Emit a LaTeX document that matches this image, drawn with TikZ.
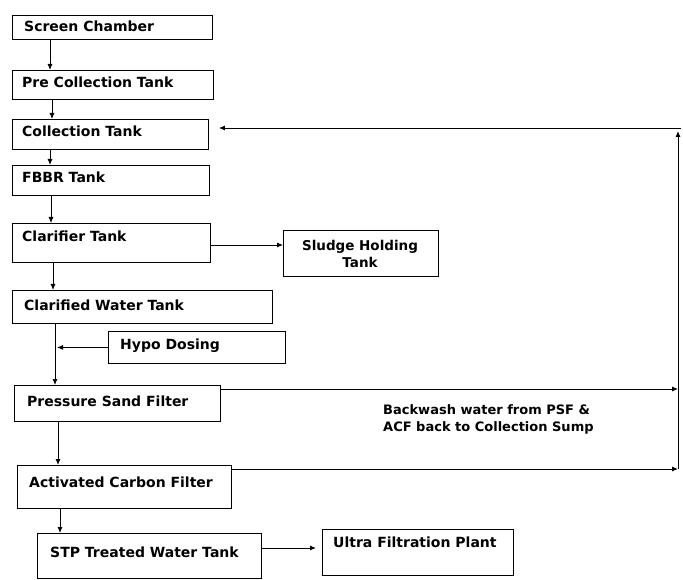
\documentclass[tikz,border=0pt]{standalone}
\usepackage{fontspec}
\setmainfont{DejaVu Sans}
\usetikzlibrary{arrows.meta,calc}
\tikzset{
  box/.style={draw,line width=0.9pt,rectangle,inner sep=0pt,anchor=north west},
  lbl/.style={font=\bfseries\fontsize{14pt}{16pt}\selectfont,inner sep=0pt,anchor=base west},
  arr/.style={line width=0.9pt,-{Latex[length=6pt,width=5pt]}},
  ln/.style={line width=0.9pt}
}
\newcommand{\pbox}[7]{%
  \node[box,minimum width=#4pt-#2pt,minimum height=#5pt-#3pt] (#1) at (#2,#3) {};
  \node[lbl] (#1-t) at (#6) {#7};}
\begin{document}
\begin{tikzpicture}[x=1pt,y=-1pt]
\useasboundingbox (0,0) rectangle (683,580);
\pbox{sc}{12}{15}{212}{39}{24,32}{Screen Chamber}
\pbox{pre}{12}{70}{213}{99}{22,88}{Pre Collection Tank}
\pbox{col}{12}{119}{208}{149}{22,137}{Collection Tank}
\pbox{fb}{12}{165}{209}{195}{22,183}{FBBR Tank}
\pbox{cl}{12}{223}{210}{262}{22,242}{Clarifier Tank}
\node[box,minimum width=155pt,minimum height=46pt] (sl) at (283,230) {};
\node[font=\bfseries\fontsize{13.5pt}{17pt}\selectfont,align=center,inner sep=0pt] (sl-t) at (360,254) {Sludge Holding\\Tank};
\pbox{cw}{12}{290}{272}{323}{24,310}{Clarified Water Tank}
\pbox{hy}{108}{331}{285}{363}{120,349}{Hypo Dosing}
\pbox{psf}{14}{385}{220}{421}{27,406}{Pressure Sand Filter}
\pbox{acf}{17}{465}{231}{508}{29,487}{Activated Carbon Filter}
\pbox{stp}{37}{533}{261}{578}{50,557}{STP Treated Water Tank}
\pbox{uf}{322}{529}{513}{575}{333,547}{Ultra Filtration Plant}
\node[font=\bfseries\fontsize{13pt}{17pt}\selectfont,align=left,inner sep=0pt,anchor=north west] (bw) at (383,404) {Backwash water from PSF \&\\ACF back to Collection Sump};
% main flow
\draw[arr] ([xshift=38pt]sc.south west) -- ([xshift=38pt]sc.south west |- pre.north);
\draw[arr] ([xshift=40pt]pre.south west) -- ([xshift=40pt]pre.south west |- col.north);
\draw[arr] ([xshift=38pt]col.south west) -- ([xshift=38pt]col.south west |- fb.north);
\draw[arr] ([xshift=39pt]fb.south west) -- ([xshift=39pt]fb.south west |- cl.north);
\draw[arr] ([xshift=41pt]cl.south west) -- ([xshift=41pt]cl.south west |- cw.north);
\draw[arr] ([xshift=43pt]cw.south west) -- ([xshift=43pt]cw.south west |- psf.north);
\coordinate (hj) at ([xshift=45pt]cw.south west |- hy.west);
\draw[arr] (hy.west) -- (hj);
\draw[arr] ([xshift=44pt]psf.south west) -- ([xshift=44pt]psf.south west |- acf.north);
\draw[arr] ([xshift=43pt]acf.south west) -- ([xshift=43pt]acf.south west |- stp.north);
\draw[arr] (cl.east |- 0,245) -- (sl.west |- 0,245);
\draw[arr] (stp.east |- 0,548) -- ([xshift=-6pt]uf.west |- 0,548);
% backwash return
\coordinate (rb) at (678,469);
\coordinate (rt) at (678,131);
\coordinate (rh) at (681,128);
\draw[arr] ([yshift=-4pt]psf.north east) -- ([yshift=-4pt]psf.north east -| rb);
\draw[arr] ([yshift=-4pt]acf.north east) -- (rb);
\draw[arr] (rb) -- (rt);
\draw[arr] (rh) -- ([xshift=10pt]col.east |- rh);
\end{tikzpicture}
\end{document}
